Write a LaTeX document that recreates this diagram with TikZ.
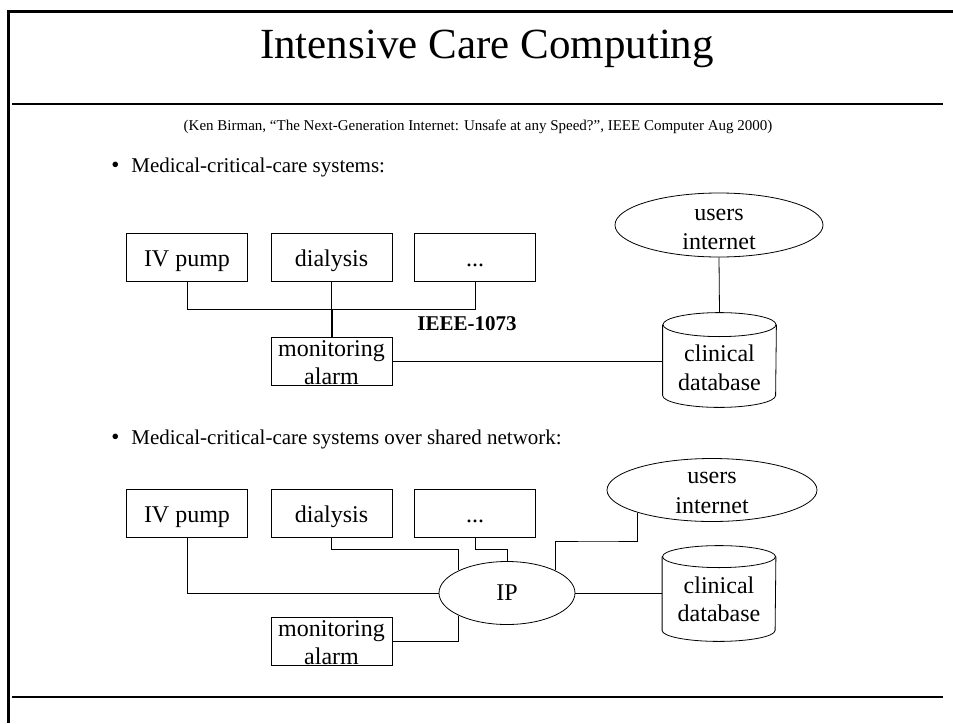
\documentclass[tikz,border=0pt]{standalone}
\usepackage{fontspec}
\setmainfont{Liberation Serif}
\usetikzlibrary{shapes.geometric}
\begin{document}
\begin{tikzpicture}[x=1pt,y=-1pt, line width=0.8pt,
  box/.style={draw, minimum width=121pt, minimum height=48pt, inner sep=0pt, text height=23pt, text depth=4pt, font=\fontsize{24}{28}\selectfont},
  frame/.style={draw, minimum width=121pt, minimum height=48pt, inner sep=0pt},
  lbl/.style={font=\fontsize{24}{28}\selectfont, inner sep=0pt, anchor=base},
  ell/.style={draw, ellipse, inner sep=0pt, fill=white},
  anchorbox/.style={minimum width=113pt, minimum height=94pt, inner sep=0pt},
  bul/.style={font=\fontsize{21}{21}\selectfont, inner sep=0pt, anchor=base west},
  rule/.style={line width=2.6pt}]
\useasboundingbox (0,0) rectangle (953,723);
% frame
\draw[line width=3pt] (8,723) -- (8,11) -- (953,11);
\draw[rule] (12,104) -- (943,104);
\draw[rule] (12,697) -- (943,697);
% titles
\node[font=\fontsize{43}{43}\selectfont, inner sep=0pt] (title) at (487,49) {Intensive Care Computing};
\node[font=\fontsize{15}{16}\selectfont, inner sep=0pt] (cite) at (478,127) {(Ken Birman, “The Next-Generation Internet: Unsafe at any Speed?”, IEEE Computer Aug 2000)};
\node[bul, font=\fontsize{23}{23}\selectfont] (bd1) at (111,172) {•};
\node[bul] (bt1) at (131,172) {Medical-critical-care systems:};
\node[bul, font=\fontsize{23}{23}\selectfont] (bd2) at (111,444) {•};
\node[bul] (bt2) at (131,444) {Medical-critical-care systems over shared network:};

% ---- top diagram
\node[box] (iv1) at (187,257) {IV pump};
\node[box] (dia1) at (331.5,257) {dialysis};
\node[box] (dots1) at (475,257) {...};
\node[frame] (mon1) at (331.5,361) {};
\node[lbl] (mon1a) at (331.5,356) {monitoring};
\node[lbl] (mon1b) at (331.5,384.5) {alarm};
\node[font=\bfseries\fontsize{21}{21}\selectfont, inner sep=0pt] (ieee) at (467,324) {IEEE-1073};
\node[ell, minimum width=208pt, minimum height=64pt] (usr1) at (719,225) {};
\node[lbl] (usr1a) at (719,220) {users};
\node[lbl] (usr1b) at (719,249) {internet};
\node[anchorbox] (db1) at (719.5,360) {};
\draw ([yshift=-12pt]db1.north west) -- ([yshift=12pt]db1.south west)
  arc[start angle=180, end angle=360, x radius=56.5pt, y radius=12pt]
  -- ([yshift=-12pt]db1.north east);
\draw ([yshift=-12pt]db1.north) ellipse[x radius=56.5pt, y radius=12pt];
\node[lbl] (db1a) at (719.5,361) {clinical};
\node[lbl] (db1b) at (719.5,390) {database};
\coordinate (bus1) at (331.5,309);
\draw (iv1.south) -- ++(0,28) -| (dots1.south);
\draw (dia1.south) -- (bus1);
\draw[line width=2pt] (bus1) -- (mon1.north);
\draw (mon1.east) -- (mon1.east -| db1.west);
\draw (usr1.south) -- (db1.north);

% ---- bottom diagram
\node[box] (iv2) at (187,513) {IV pump};
\node[box] (dia2) at (331.5,513) {dialysis};
\node[box] (dots2) at (475,513) {...};
\node[frame] (mon2) at (331.5,641) {};
\node[lbl] (mon2a) at (331.5,636) {monitoring};
\node[lbl] (mon2b) at (331.5,664.5) {alarm};
\node[ell, minimum width=136pt, minimum height=63pt, font=\fontsize{24}{28}\selectfont] (ip) at (507,593) {IP};
\node[ell, minimum width=210pt, minimum height=63pt] (usr2) at (712,490) {};
\node[lbl] (usr2a) at (712,483) {users};
\node[lbl] (usr2b) at (712,513) {internet};
\node[anchorbox, minimum height=95pt] (db2) at (719,593.5) {};
\draw ([yshift=-11pt]db2.north west) -- ([yshift=11pt]db2.south west)
  arc[start angle=180, end angle=360, x radius=56.5pt, y radius=11pt]
  -- ([yshift=-11pt]db2.north east);
\draw ([yshift=-11pt]db2.north) ellipse[x radius=56.5pt, y radius=11pt];
\node[lbl] (db2a) at (719,593) {clinical};
\node[lbl] (db2b) at (719,621) {database};
\coordinate (j3) at (600,541);
\draw (iv2.south) |- (ip.west);
\draw (dia2.south) -- ++(0,12) -| (ip.north west);
\draw (dots2.south) -- ++(0,12) -| (ip.north);
\draw (mon2.east) -| (ip.south west);
\draw (usr2.south west) |- (j3) -| (ip.north east);
\draw (ip.east) -- (ip.east -| db2.west);
\end{tikzpicture}
\end{document}
